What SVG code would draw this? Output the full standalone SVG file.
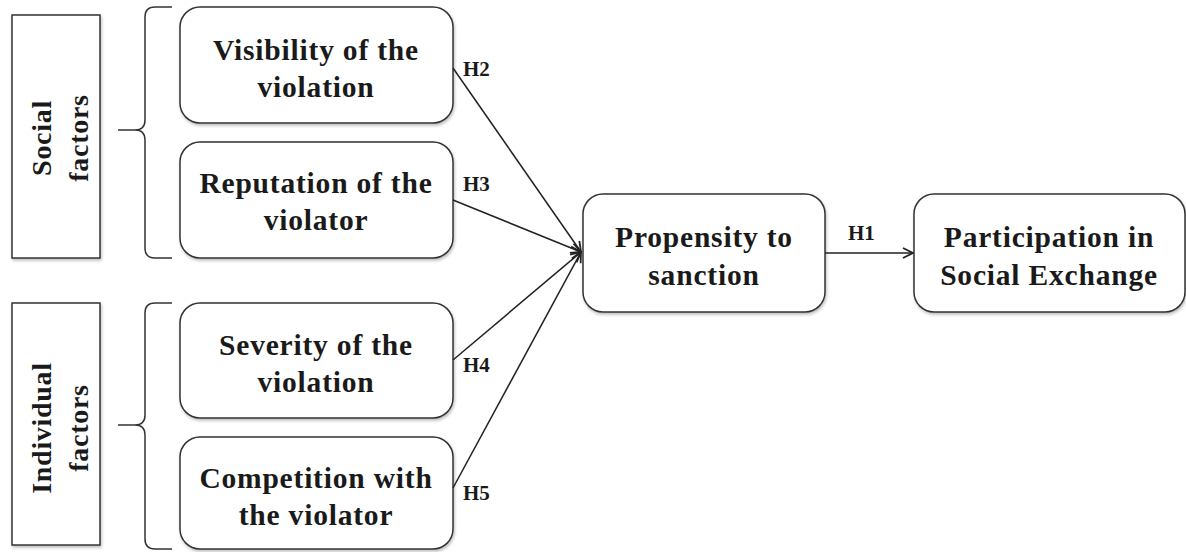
<svg xmlns="http://www.w3.org/2000/svg" width="1186" height="552" viewBox="0 0 1186 552">
<defs>
<marker id="arr" viewBox="0 0 12 12" refX="11" refY="6" markerWidth="12" markerHeight="12" markerUnits="userSpaceOnUse" orient="auto">
<path d="M1,1 L11,6 L1,11" fill="none" stroke="#222" stroke-width="1.8"/>
</marker>
<filter id="sh" x="-5%" y="-5%" width="110%" height="115%">
<feDropShadow dx="1" dy="2" stdDeviation="1.5" flood-color="#000" flood-opacity="0.25"/>
</filter>
</defs>
<style>
.box{fill:#fff;stroke:#333;stroke-width:1.5;filter:url(#sh)}
.t{font-family:"Liberation Serif","Times New Roman",serif;font-weight:bold;font-size:29.5px;letter-spacing:0.8px;fill:#1a1a1a;text-anchor:middle}
.v{font-size:28px;letter-spacing:0.7px}
.lab{font-family:"Liberation Serif","Times New Roman",serif;font-weight:bold;font-size:21px;fill:#1a1a1a}
.br{fill:none;stroke:#333;stroke-width:1.5}
.c{fill:none;stroke:#222;stroke-width:1.5}
</style>
<g id="social-factors">
<rect class="box" x="12" y="15" width="88" height="243"/>
<text class="t v" transform="translate(51,138) rotate(-90)">Social</text>
<text class="t v" transform="translate(88,138) rotate(-90)">factors</text>
</g>
<g id="individual-factors">
<rect class="box" x="12" y="303" width="88" height="242"/>
<text class="t v" transform="translate(51,428) rotate(-90)">Individual</text>
<text class="t v" transform="translate(88,428) rotate(-90)">factors</text>
</g>
<g id="braces">
<path class="br" d="M172,7 L155,7 Q145,7 145,17 L145,120 Q145,130 135,130 L118,130 M135,130 Q145,130 145,140 L145,248 Q145,258 155,258 L172,258"/>
<path class="br" d="M172,303 L155,303 Q145,303 145,313 L145,415 Q145,425 135,425 L118,425 M135,425 Q145,425 145,435 L145,539 Q145,549 155,549 L172,549"/>
</g>
<g id="visibility">
<rect class="box" x="180" y="7" width="273" height="116" rx="20"/>
<text class="t" x="316" y="60">Visibility of the</text>
<text class="t" x="316" y="97">violation</text>
</g>
<g id="reputation">
<rect class="box" x="180" y="142" width="273" height="116" rx="20"/>
<text class="t" x="316" y="193">Reputation of the</text>
<text class="t" x="316" y="230">violator</text>
</g>
<g id="severity">
<rect class="box" x="180" y="303" width="273" height="115" rx="20"/>
<text class="t" x="316" y="355">Severity of the</text>
<text class="t" x="316" y="392">violation</text>
</g>
<g id="competition">
<rect class="box" x="180" y="437" width="273" height="112" rx="20"/>
<text class="t" x="316" y="488">Competition with</text>
<text class="t" x="316" y="525">the violator</text>
</g>
<g id="propensity">
<rect class="box" x="583" y="194" width="242" height="118" rx="20"/>
<text class="t" x="704" y="247">Propensity to</text>
<text class="t" x="704" y="285">sanction</text>
</g>
<g id="participation">
<rect class="box" x="914" y="194" width="271" height="118" rx="20"/>
<text class="t" x="1049" y="247">Participation in</text>
<text class="t" x="1049" y="285">Social Exchange</text>
</g>
<g id="connectors">
<line class="c" x1="453" y1="68" x2="581" y2="252" marker-end="url(#arr)"/>
<line class="c" x1="453" y1="200" x2="581" y2="252" marker-end="url(#arr)"/>
<line class="c" x1="453" y1="360" x2="581" y2="252" marker-end="url(#arr)"/>
<line class="c" x1="453" y1="488" x2="581" y2="252" marker-end="url(#arr)"/>
<line class="c" x1="825" y1="253" x2="913" y2="253" marker-end="url(#arr)"/>
<text class="lab" x="463" y="76">H2</text>
<text class="lab" x="463" y="191">H3</text>
<text class="lab" x="463" y="372">H4</text>
<text class="lab" x="463" y="500">H5</text>
<text class="lab" x="848" y="240">H1</text>
</g>
</svg>
